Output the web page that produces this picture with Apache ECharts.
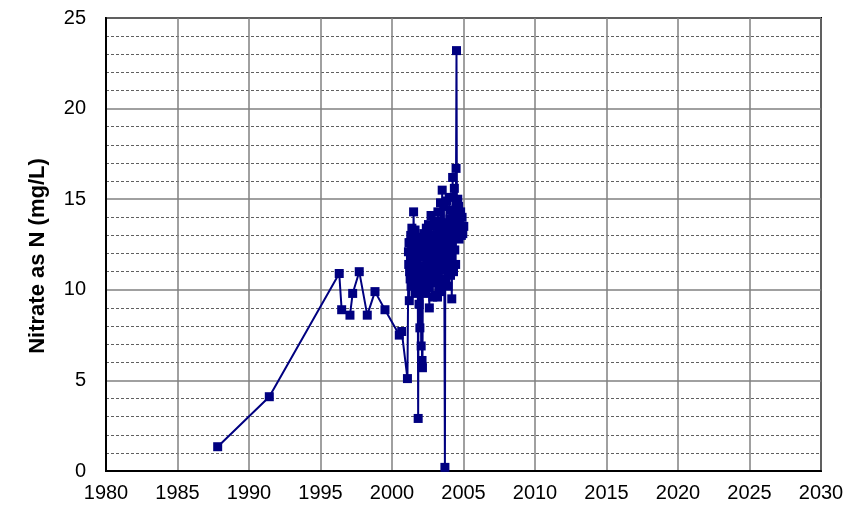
<!DOCTYPE html>
<html>
<head>
<meta charset="utf-8">
<script src="https://cdn.jsdelivr.net/npm/echarts@6/dist/echarts.min.js"></script>
<style>
html,body{margin:0;padding:0;background:#fff;}
#chart{width:863px;height:517px;}
</style>
</head>
<body>
<div id="chart"></div>
<script>
// Sampling dates (decimal years)
var years = [
  1987.81, 1991.42, 1996.31, 1996.48, 1997.06, 1997.25, 1997.71, 1998.27, 1998.81, 1999.51,
  2000.51, 2000.68, 2001.08, 2001.15, 2001.17, 2001.19, 2001.21, 2001.23, 2001.25, 2001.27,
  2001.29, 2001.31, 2001.33, 2001.35, 2001.37, 2001.39, 2001.41, 2001.43, 2001.45, 2001.47,
  2001.49, 2001.51, 2001.53, 2001.55, 2001.57, 2001.59, 2001.61, 2001.63, 2001.65, 2001.67,
  2001.69, 2001.71, 2001.73, 2001.75, 2001.77, 2001.80, 2001.83, 2001.86, 2001.89, 2001.92,
  2001.95, 2001.98, 2002.01, 2002.04, 2002.07, 2002.10, 2002.13, 2002.16, 2002.19, 2002.22,
  2002.25, 2002.28, 2002.31, 2002.34, 2002.37, 2002.40, 2002.43, 2002.46, 2002.49, 2002.52,
  2002.55, 2002.58, 2002.61, 2002.64, 2002.67, 2002.70, 2002.73, 2002.76, 2002.79, 2002.82,
  2002.85, 2002.88, 2002.91, 2002.94, 2002.97, 2003.00, 2003.03, 2003.06, 2003.09, 2003.12,
  2003.15, 2003.18, 2003.21, 2003.24, 2003.27, 2003.30, 2003.33, 2003.36, 2003.39, 2003.42,
  2003.45, 2003.48, 2003.51, 2003.54, 2003.57, 2003.60, 2003.63, 2003.66, 2003.70, 2003.73,
  2003.76, 2003.79, 2003.82, 2003.85, 2003.88, 2003.91, 2003.94, 2003.97, 2004.00, 2004.03,
  2004.06, 2004.09, 2004.12, 2004.15, 2004.18, 2004.21, 2004.24, 2004.27, 2004.30, 2004.33,
  2004.36, 2004.39, 2004.42, 2004.45, 2004.48, 2004.51, 2004.54, 2004.57, 2004.60, 2004.63,
  2004.66, 2004.69, 2004.72, 2004.76, 2004.80, 2004.85, 2004.90, 2004.95, 2005.02
];
// Nitrate as N (mg/L)
var nitrate = [
  1.34, 4.10, 10.9, 8.9, 8.6, 9.8, 11.0, 8.6, 9.9, 8.9,
  7.5, 7.7, 5.1, 12.1, 11.4, 12.6, 9.4, 11.0, 12.6, 10.6,
  11.8, 13.0, 10.2, 11.2, 12.4, 13.4, 10.8, 11.9, 13.1, 11.0,
  12.3, 14.3, 12.8, 10.6, 12.2, 11.6, 13.3, 9.8, 12.9, 10.4,
  11.5, 12.7, 10.9, 12.1, 9.9, 11.2, 2.9, 11.8, 9.2, 12.4,
  7.9, 10.5, 12.6, 6.9, 11.3, 6.1, 5.7, 10.8, 12.2, 13.1,
  10.2, 12.0, 9.8, 12.9, 11.1, 13.4, 10.4, 12.7, 11.6, 10.1,
  13.6, 11.8, 9.0, 11.9, 12.8, 10.4, 14.1, 12.3, 10.9, 13.0,
  9.6, 11.2, 13.5, 10.8, 12.4, 11.6, 9.7, 13.8, 11.4, 12.9,
  10.5, 9.6, 14.3, 11.0, 12.5, 13.6, 10.3, 12.0, 14.8, 12.0,
  9.9, 13.3, 15.5, 13.2, 11.1, 12.8, 14.6, 10.4, 0.2, 12.4,
  10.6, 13.5, 14.9, 11.8, 13.7, 10.2, 12.9, 11.4, 15.1, 11.3,
  13.9, 10.8, 14.4, 12.0, 9.5, 12.6, 16.2, 13.3, 11.0, 14.2,
  15.6, 12.2, 13.8, 11.4, 16.7, 23.2, 14.2, 12.9, 15.0, 13.1,
  14.6, 12.8, 13.9, 13.2, 14.3, 13.0, 14.0, 13.1, 13.5
];
var xTicks = [1980, 1985, 1990, 1995, 2000, 2005, 2010, 2015, 2020, 2025, 2030];
var yTicks = [0, 5, 10, 15, 20, 25];
var yTitle = 'Nitrate as N (mg/L)';

var points = years.map(function (y, i) { return [y, nitrate[i]]; });

var chart = echarts.init(document.getElementById('chart'), null, {renderer: 'canvas'});
var font = 'Liberation Sans, Arial, sans-serif';
chart.setOption({
  animation: false,
  backgroundColor: '#fff',
  grid: {left: 106, right: 42, top: 18, bottom: 46, show: true, borderColor: '#000', borderWidth: 2, backgroundColor: 'transparent'},
  xAxis: {
    type: 'value', min: xTicks[0], max: xTicks[xTicks.length - 1], interval: 5,
    axisLine: {show: true, onZero: false, lineStyle: {color: '#000', width: 2}},
    axisTick: {show: false},
    axisLabel: {color: '#000', fontSize: 20, fontFamily: font, margin: 12,
      formatter: function (v) { return xTicks.indexOf(v) >= 0 ? String(v) : ''; }},
    splitLine: {show: true, lineStyle: {color: '#808080', width: 1.5}}
  },
  yAxis: {
    type: 'value', min: yTicks[0], max: yTicks[yTicks.length - 1], interval: 5,
    axisLine: {show: true, lineStyle: {color: '#000', width: 2}},
    axisTick: {show: false},
    axisLabel: {color: '#000', fontSize: 20, fontFamily: font, margin: 20,
      formatter: function (v) { return yTicks.indexOf(v) >= 0 ? String(v) : ''; }},
    splitLine: {show: true, lineStyle: {color: '#808080', width: 1.5}},
    minorTick: {show: false, splitNumber: 5},
    minorSplitLine: {show: true, lineStyle: {color: '#606060', width: 1, type: [3, 2]}}
  },
  graphic: [{
    type: 'text', x: 38, y: 256, rotation: Math.PI / 2,
    style: {text: yTitle, fill: '#000', font: 'bold 22px ' + font, textAlign: 'center', textVerticalAlign: 'middle'}
  }],
  series: [{
    type: 'line', data: points,
    symbol: 'rect', symbolSize: 9, showAllSymbol: true,
    itemStyle: {color: '#000080'},
    lineStyle: {color: '#000080', width: 2},
    z: 5
  }]
});
</script>
</body>
</html>
